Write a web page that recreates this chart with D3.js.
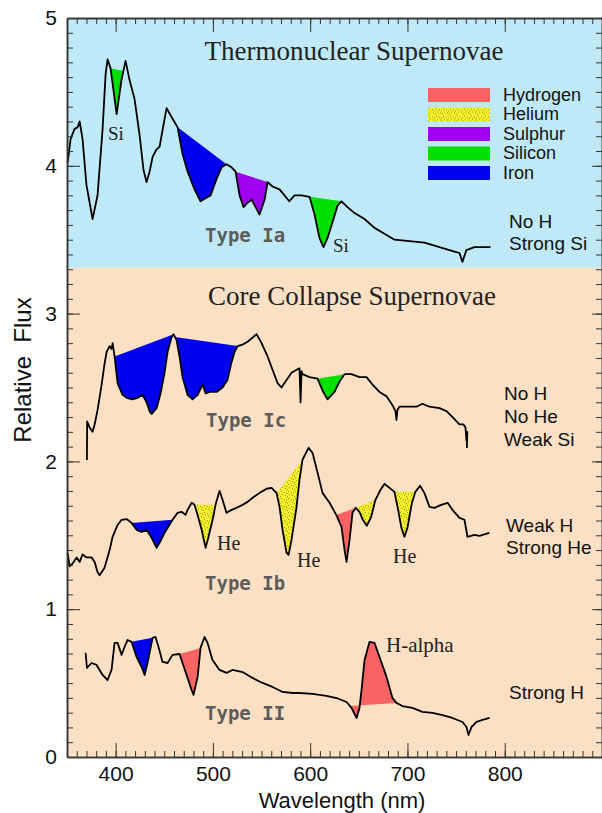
<!DOCTYPE html>
<html>
  <head>
    <meta charset="utf-8">
    <title>Supernova spectra</title>
    <style>
      body { margin: 0; background: #fff; }
      .sans { font-family: "Liberation Sans", Arial, sans-serif; fill: #111; }
      .serif { font-family: "Liberation Serif", "Times New Roman", serif; fill: #222; }
      .type { font-family: "DejaVu Sans Mono", monospace; font-weight: bold; fill: #5c5c5c; }
      .spec { fill: none; stroke: #000; stroke-width: 1.8; stroke-linejoin: round; }
    </style>
  </head>
  <body>
    <div class="container"></div>
    <script src="https://cdn.jsdelivr.net/npm/d3@7/dist/d3.min.js"></script>
    <script>
    // spectra: wavelength (nm) and relative flux
    var iaWave = [350.6, 353.7, 357.8, 360.9, 363, 366, 370, 376.3, 381.4, 386.6, 389.7, 391.7, 394.8, 401, 406, 410.2, 414.3, 419.5, 424.6, 428.7, 431.8, 434.9, 438, 442, 445.2, 449.3, 452.4, 457.5, 463.7, 468.8, 474, 481.1, 487.3, 492.4, 497.6, 503.7, 508.9, 514, 519.2, 523.3, 527.4, 531.5, 535.6, 539.8, 543.9, 547.9, 553.1, 556.2, 561.3, 568.5, 573.6, 578.5, 583.9, 591.1, 599.3, 604.5, 609.6, 613.7, 617.8, 623, 628.1, 632.2, 638.4, 645.6, 655.9, 666.1, 676.4, 686.7, 702.1, 717.5, 732.9, 748.3, 753.5, 756.5, 760.6, 768.8, 779.1, 785.3];
    var iaFlux = [4.02, 4.18, 4.25, 4.26, 4.30, 4.18, 3.87, 3.64, 3.80, 4.25, 4.62, 4.72, 4.66, 4.35, 4.58, 4.71, 4.58, 4.45, 4.21, 3.97, 3.89, 3.96, 4.06, 4.11, 4.13, 4.28, 4.39, 4.33, 4.26, 4.08, 3.96, 3.84, 3.76, 3.78, 3.80, 3.91, 3.99, 4.01, 3.99, 3.96, 3.80, 3.72, 3.75, 3.77, 3.72, 3.67, 3.77, 3.89, 3.86, 3.84, 3.80, 3.76, 3.80, 3.80, 3.79, 3.67, 3.51, 3.45, 3.51, 3.62, 3.73, 3.76, 3.72, 3.68, 3.64, 3.58, 3.54, 3.50, 3.49, 3.48, 3.45, 3.42, 3.41, 3.35, 3.43, 3.45, 3.45, 3.45];

    var icWave = [370.5, 370.7, 373.2, 376.3, 378.4, 381.5, 385.6, 388.6, 390.7, 393.8, 395.8, 396.9, 398.9, 402, 407.1, 411.3, 417.4, 422.6, 427.7, 431.8, 434.9, 436.9, 442.1, 446.2, 450.3, 453.4, 457.5, 459.6, 462.6, 465.7, 468.8, 474, 479.1, 484.3, 489.4, 492.5, 496.5, 503.7, 509.9, 515, 519.1, 522.2, 525.3, 530.5, 535.6, 544.9, 550, 556.2, 561.3, 566.5, 570.5, 575.7, 580.8, 586, 589, 590.1, 591.1, 592.1, 599.3, 607.6, 612.7, 617.8, 625, 630.2, 635.3, 642.5, 650.7, 657.9, 664.1, 671.3, 678.5, 684.6, 687.7, 688.7, 689.8, 691.8, 699, 709.3, 715.4, 722.6, 732.9, 740.1, 746.3, 753.5, 757.6, 759.6, 760.7, 761.5, 761.1];
    var icFlux = [2.01, 2.27, 2.23, 2.20, 2.25, 2.35, 2.52, 2.66, 2.74, 2.78, 2.76, 2.80, 2.71, 2.53, 2.45, 2.43, 2.42, 2.43, 2.45, 2.40, 2.34, 2.32, 2.36, 2.46, 2.60, 2.74, 2.84, 2.86, 2.82, 2.71, 2.57, 2.45, 2.42, 2.45, 2.52, 2.46, 2.47, 2.47, 2.50, 2.55, 2.67, 2.74, 2.78, 2.79, 2.81, 2.86, 2.80, 2.71, 2.62, 2.53, 2.50, 2.55, 2.60, 2.62, 2.63, 2.40, 2.61, 2.59, 2.57, 2.56, 2.48, 2.42, 2.47, 2.54, 2.59, 2.59, 2.57, 2.57, 2.52, 2.47, 2.44, 2.38, 2.34, 2.28, 2.35, 2.37, 2.37, 2.37, 2.39, 2.37, 2.36, 2.34, 2.30, 2.25, 2.25, 2.23, 2.14, 2.20, 2.09];

    var ibWave = [350.6, 352.7, 355.8, 359.9, 363, 366, 370.1, 375.3, 378.4, 381.5, 383.5, 388.6, 393.8, 396.9, 402, 406.1, 411.3, 416.4, 421.5, 426.7, 431.8, 437, 442.1, 445.2, 450.3, 455.4, 458.5, 463.7, 467.8, 471.9, 474, 478.1, 481.1, 484.3, 488.4, 492.5, 495.5, 499.7, 502.7, 506.8, 509.9, 514, 519.2, 524.3, 530.5, 535.6, 540.8, 548, 555.2, 560.3, 565.4, 568.5, 571.6, 575.7, 577.8, 580.8, 586, 589, 592.1, 598.3, 602.4, 607.6, 612.7, 619.9, 626.8, 632.2, 635.3, 637.4, 640.5, 643.5, 646.7, 650.7, 654.1, 658.2, 662.7, 667.1, 672.3, 676.5, 681.5, 686.6, 689.8, 693.8, 696.9, 700, 704.6, 708.2, 712.9, 717.4, 722.6, 727.7, 734.6, 741.3, 746.3, 753.5, 758.6, 761.7, 768.9, 774, 784.2];
    var ibFlux = [1.38, 1.29, 1.31, 1.35, 1.32, 1.37, 1.35, 1.35, 1.32, 1.25, 1.23, 1.28, 1.40, 1.49, 1.57, 1.605, 1.61, 1.584, 1.537, 1.523, 1.537, 1.483, 1.415, 1.449, 1.517, 1.571, 1.605, 1.652, 1.659, 1.638, 1.672, 1.72, 1.706, 1.638, 1.537, 1.415, 1.49, 1.605, 1.706, 1.801, 1.74, 1.652, 1.672, 1.686, 1.706, 1.726, 1.754, 1.787, 1.815, 1.821, 1.787, 1.693, 1.537, 1.381, 1.368, 1.469, 1.693, 1.875, 2.011, 2.092, 2.058, 1.923, 1.787, 1.72, 1.638, 1.557, 1.401, 1.32, 1.469, 1.652, 1.686, 1.659, 1.605, 1.564, 1.625, 1.74, 1.808, 1.848, 1.821, 1.794, 1.693, 1.55, 1.49, 1.55, 1.72, 1.794, 1.835, 1.787, 1.693, 1.686, 1.706, 1.72, 1.672, 1.618, 1.605, 1.49, 1.503, 1.496, 1.517];

    var iiWave = [369.1, 370.5, 375.3, 380.4, 386.6, 391.7, 395.8, 398.9, 402, 406.1, 409.2, 412.3, 416.4, 421.5, 426.7, 429.8, 432.8, 438, 441, 444.1, 448.2, 453.4, 458.5, 465.7, 472.9, 478.1, 480.1, 484.3, 487.3, 491.4, 494.5, 499.6, 506.8, 514, 520.2, 530.5, 540.8, 551, 561.3, 571.6, 581.9, 589, 602.4, 616.8, 627.1, 637.4, 642.5, 647.7, 650.7, 652.8, 655.9, 661, 666.1, 671.3, 678.5, 684.6, 688.7, 694.8, 705.1, 715.4, 725.7, 736, 746.3, 756.6, 760.7, 762.8, 765.8, 771, 777.2, 784.4];
    var iiFlux = [0.704, 0.603, 0.636, 0.623, 0.555, 0.521, 0.589, 0.772, 0.772, 0.691, 0.745, 0.792, 0.779, 0.677, 0.609, 0.555, 0.636, 0.806, 0.812, 0.745, 0.643, 0.636, 0.691, 0.697, 0.555, 0.454, 0.42, 0.542, 0.738, 0.812, 0.772, 0.657, 0.589, 0.569, 0.589, 0.575, 0.535, 0.501, 0.474, 0.44, 0.433, 0.433, 0.427, 0.413, 0.399, 0.372, 0.332, 0.264, 0.332, 0.454, 0.657, 0.779, 0.772, 0.677, 0.542, 0.399, 0.366, 0.345, 0.332, 0.305, 0.298, 0.284, 0.264, 0.237, 0.203, 0.149, 0.203, 0.237, 0.251, 0.264];

    // shaded absorption / emission features: [from nm, to nm, element]
    var iaLines = [[394.8, 408, "Silicon"], [463.7, 514, "Iron"], [523.3, 556.2, "Sulphur"], [599.3, 632.2, "Silicon"]];
    var icLines = [[398.9, 459.6, "Iron"], [461, 525.3, "Iron"], [607.6, 635.3, "Silicon"]];
    var ibLines = [[416.4, 458.5, "Iron"], [481.1, 502.7, "Helium"], [565.4, 592.1, "Helium"], [626.8, 646.7, "Hydrogen"], [646.7, 667.1, "Helium"], [686.6, 708.2, "Helium"]];
    var iiLines = [[416.4, 438, "Iron"], [465.7, 487.3, "Hydrogen"], [640.8, 688.7, "Hydrogen"]];

    var elements = ["Hydrogen", "Helium", "Sulphur", "Silicon", "Iron"];
    var elementColors = ["#f86464", "url(#helium)", "#a000f0", "#00e000", "#0000ee"];

    var yTicks = [0, 1, 2, 3, 4, 5];
    var xTicks = [400, 500, 600, 700, 800];
    var regionSplit = 3.31;

    var width = 602;
    var height = 813;

    var svg = d3.select(".container")
        .append("svg")
        .attr("width", width)
        .attr("height", height);

    var x = d3.scaleLinear().domain([350, 900]).range([67, 602]);
    var y = d3.scaleLinear().domain([0, 5]).range([757, 18]);

    var color = d3.scaleOrdinal().domain(elements).range(elementColors);

    // stippled yellow for helium
    var pat = svg.append("defs").append("pattern")
        .attr("id", "helium")
        .attr("patternUnits", "userSpaceOnUse")
        .attr("width", 7)
        .attr("height", 7);
    pat.append("rect").attr("width", 7).attr("height", 7).attr("fill", "#f2f02a");
    [[1, 1], [4, 2], [2, 4], [5, 5], [0, 6], [6, 3]].forEach(function(p) {
      pat.append("rect").attr("x", p[0]).attr("y", p[1])
          .attr("width", 1).attr("height", 1).attr("fill", "#9a9424");
    });

    // backgrounds
    svg.append("rect")
        .attr("x", x(350)).attr("y", y(5))
        .attr("width", x(900) - x(350))
        .attr("height", y(regionSplit) - y(5))
        .attr("fill", "#c0e9f7");
    svg.append("rect")
        .attr("x", x(350)).attr("y", y(regionSplit))
        .attr("width", x(900) - x(350))
        .attr("height", y(0) - y(regionSplit))
        .attr("fill", "#fbe0c4");

    var line = d3.line()
        .x(function(d) { return x(d[0]); })
        .y(function(d) { return y(d[1]); });

    function interp(wave, flux, w) {
      var i = d3.bisectLeft(wave, w);
      if (i <= 0) return flux[0];
      if (i >= wave.length) return flux[wave.length - 1];
      var t = (w - wave[i - 1]) / (wave[i] - wave[i - 1]);
      return flux[i - 1] + t * (flux[i] - flux[i - 1]);
    }

    function drawSpectrum(wave, flux, lines) {
      var pts = wave.map(function(w, i) { return [w, flux[i]]; });

      svg.append("g").selectAll("path")
          .data(lines)
          .enter()
          .append("path")
          .attr("fill", function(d) { return color(d[2]); })
          .attr("d", function(d) {
            var seg = [[d[0], interp(wave, flux, d[0])]];
            pts.forEach(function(p) {
              if (p[0] > d[0] && p[0] < d[1]) seg.push(p);
            });
            seg.push([d[1], interp(wave, flux, d[1])]);
            return line(seg) + "Z";
          });

      svg.append("path")
          .datum(pts)
          .attr("class", "spec")
          .attr("d", line);
    }

    drawSpectrum(iaWave, iaFlux, iaLines);
    drawSpectrum(icWave, icFlux, icLines);
    drawSpectrum(ibWave, ibFlux, ibLines);
    drawSpectrum(iiWave, iiFlux, iiLines);

    // axes: minor and major ticks on all four sides, pointing inward
    var minorX = d3.range(350, 901, 10);
    var minorY = d3.range(0, 5.01, 0.1);

    function styleAxis(g) {
      g.selectAll("line").attr("stroke", "#333");
      g.selectAll(".domain").attr("stroke", "#333").attr("stroke-width", 1.5);
      g.selectAll("text").attr("class", "sans").attr("font-size", 21).attr("fill", "#111");
    }

    svg.append("g").attr("transform", "translate(0," + y(0) + ")")
        .call(d3.axisBottom(x).tickValues(minorX).tickSizeInner(-6).tickSizeOuter(0).tickFormat(""))
        .call(styleAxis);
    svg.append("g").attr("transform", "translate(0," + y(0) + ")")
        .call(d3.axisBottom(x).tickValues(xTicks).tickSizeInner(-14).tickSizeOuter(0).tickPadding(9).tickFormat(d3.format("d")))
        .call(styleAxis);
    svg.append("g").attr("transform", "translate(0," + y(5) + ")")
        .call(d3.axisTop(x).tickValues(minorX).tickSizeInner(-6).tickSizeOuter(0).tickFormat(""))
        .call(styleAxis);
    svg.append("g").attr("transform", "translate(0," + y(5) + ")")
        .call(d3.axisTop(x).tickValues(xTicks).tickSizeInner(-14).tickSizeOuter(0).tickFormat(""))
        .call(styleAxis);

    svg.append("g").attr("transform", "translate(" + x(350) + ",0)")
        .call(d3.axisLeft(y).tickValues(minorY).tickSizeInner(-6).tickSizeOuter(0).tickFormat(""))
        .call(styleAxis);
    svg.append("g").attr("transform", "translate(" + x(350) + ",0)")
        .call(d3.axisLeft(y).tickValues(yTicks).tickSizeInner(-13).tickSizeOuter(0).tickPadding(10).tickFormat(d3.format("d")))
        .call(styleAxis);
    svg.append("g").attr("transform", "translate(" + x(900) + ",0)")
        .call(d3.axisRight(y).tickValues(minorY).tickSizeInner(-6).tickSizeOuter(0).tickFormat(""))
        .call(styleAxis);
    svg.append("g").attr("transform", "translate(" + x(900) + ",0)")
        .call(d3.axisRight(y).tickValues(yTicks).tickSizeInner(-10).tickSizeOuter(0).tickFormat(""))
        .call(styleAxis);

    // axis titles
    svg.append("text")
        .attr("class", "sans")
        .attr("x", 342).attr("y", 808)
        .attr("text-anchor", "middle")
        .attr("font-size", 22)
        .text("Wavelength (nm)");
    svg.append("text")
        .attr("class", "sans")
        .attr("transform", "translate(31,370) rotate(-90)")
        .attr("text-anchor", "middle")
        .attr("font-size", 24)
        .attr("xml:space", "preserve")
        .text("Relative  Flux");

    // section titles
    svg.append("text").attr("class", "serif")
        .attr("x", 354).attr("y", 60).attr("text-anchor", "middle")
        .attr("font-size", 27).text("Thermonuclear Supernovae");
    svg.append("text").attr("class", "serif")
        .attr("x", 352).attr("y", 305).attr("text-anchor", "middle")
        .attr("font-size", 27).text("Core Collapse Supernovae");

    // legend
    var legend = svg.append("g").selectAll("g")
        .data(elements)
        .enter()
        .append("g")
        .attr("transform", function(d, i) { return "translate(428," + (88 + i * 19.5) + ")"; });
    legend.append("rect")
        .attr("width", 62).attr("height", 14)
        .attr("fill", function(d) { return color(d); });
    legend.append("text")
        .attr("class", "sans")
        .attr("x", 75).attr("y", 12.5)
        .attr("font-size", 18)
        .text(function(d) { return d; });

    // type labels
    var typeLabels = [["Type Ia", 205, 242], ["Type Ic", 206, 427], ["Type Ib", 205, 590], ["Type II", 205, 720]];
    svg.append("g").selectAll("text")
        .data(typeLabels)
        .enter()
        .append("text")
        .attr("class", "type")
        .attr("x", function(d) { return d[1]; })
        .attr("y", function(d) { return d[2]; })
        .attr("font-size", 19)
        .text(function(d) { return d[0]; });

    // line identifications
    var lineLabels = [["Si", 108, 140, 19], ["Si", 333, 252, 19], ["He", 217, 550, 20], ["He", 297, 567, 20], ["He", 393, 563, 20], ["H-alpha", 386, 652, 21]];
    svg.append("g").selectAll("text")
        .data(lineLabels)
        .enter()
        .append("text")
        .attr("class", "serif")
        .attr("x", function(d) { return d[1]; })
        .attr("y", function(d) { return d[2]; })
        .attr("font-size", function(d) { return d[3]; })
        .text(function(d) { return d[0]; });

    // notes on the right
    var notes = [["No H", 509, 228], ["Strong Si", 509, 250],
                 ["No H", 504, 400], ["No He", 504, 423], ["Weak Si", 504, 446],
                 ["Weak H", 506, 532], ["Strong He", 506, 554],
                 ["Strong H", 509, 699]];
    svg.append("g").selectAll("text")
        .data(notes)
        .enter()
        .append("text")
        .attr("class", "sans")
        .attr("x", function(d) { return d[1]; })
        .attr("y", function(d) { return d[2]; })
        .attr("font-size", 19)
        .text(function(d) { return d[0]; });
    </script>
  </body>
</html>
